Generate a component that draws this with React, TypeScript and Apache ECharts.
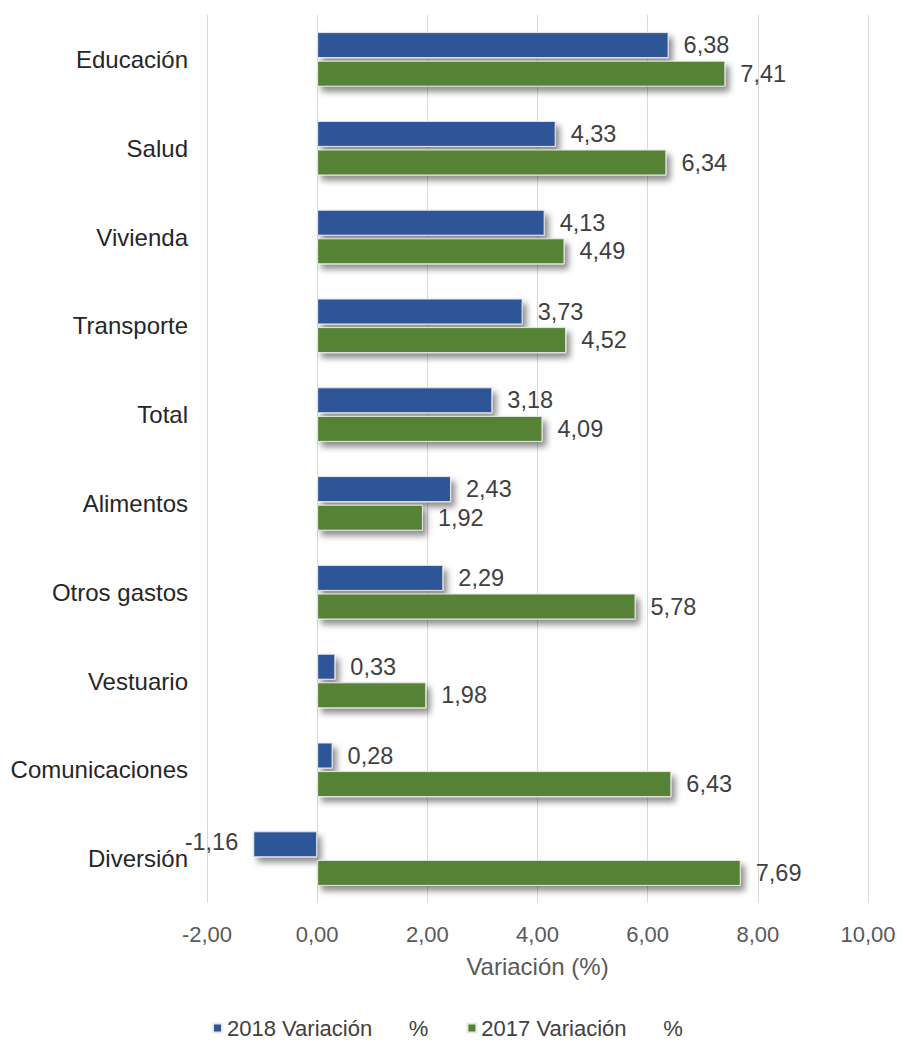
import React, { useEffect, useRef } from "react";
import * as echarts from "echarts";

const categories = [
  "Educación",
  "Salud",
  "Vivienda",
  "Transporte",
  "Total",
  "Alimentos",
  "Otros gastos",
  "Vestuario",
  "Comunicaciones",
  "Diversión",
];
const values2018 = [6.38, 4.33, 4.13, 3.73, 3.18, 2.43, 2.29, 0.33, 0.28, -1.16];
const values2017 = [7.41, 6.34, 4.49, 4.52, 4.09, 1.92, 5.78, 1.98, 6.43, 7.69];
const seriesNames = ["2018 Variación      %", "2017 Variación      %"];
const axisName = "Variación (%)";

const FONT = "'Liberation Sans', Arial, sans-serif";
const fmt = (v: number) => v.toFixed(2).replace(".", ",");

export default function App() {
  const ref = useRef<HTMLDivElement>(null);
  useEffect(() => {
    if (!ref.current) return;
    const chart = echarts.init(ref.current, undefined, { renderer: "svg" });
    const shadow = {
      shadowBlur: 6,
      shadowOffsetX: 4,
      shadowOffsetY: 5,
      shadowColor: "rgba(0,0,0,0.45)",
    };
    const mkData = (vals: number[]) =>
      vals.map((v) =>
        v < 0
          ? { value: v, label: { position: "left", offset: [0, -2] } }
          : { value: v }
      );
    const labelStyle = {
      show: true,
      position: "right",
      distance: 15,
      formatter: (p: any) => fmt(p.value),
      fontFamily: FONT,
      fontSize: 23.5,
      color: "#404040",
    };
    chart.setOption({
      animation: false,
      textStyle: { fontFamily: FONT },
      grid: { left: 207, right: 36, top: 15, bottom: 142, containLabel: false },
      legend: {
        bottom: 1,
        left: 207,
        itemWidth: 9,
        itemHeight: 9,
        itemGap: 38,
        icon: "rect",
        textStyle: { fontFamily: FONT, fontSize: 22, color: "#404040" },
        data: seriesNames,
      },
      xAxis: {
        type: "value",
        min: -2,
        max: 10,
        interval: 2,
        axisLabel: {
          formatter: (v: number) => fmt(v),
          fontFamily: FONT,
          fontSize: 22,
          color: "#595959",
          margin: 20,
        },
        axisLine: { show: false },
        axisTick: { show: false },
        splitLine: { show: true, lineStyle: { color: "#d9d9d9", width: 1 } },
        name: axisName,
        nameLocation: "middle",
        nameGap: 51,
        nameTextStyle: { fontFamily: FONT, fontSize: 24, color: "#595959" },
      },
      yAxis: {
        type: "category",
        data: categories,
        inverse: true,
        axisLine: { show: false, onZero: false },
        axisTick: { show: false },
        axisLabel: {
          fontFamily: FONT,
          fontSize: 24,
          color: "#262626",
          margin: 19,
        },
        splitLine: { show: false },
      },
      series: [
        {
          name: seriesNames[0],
          type: "bar",
          data: mkData(values2018),
          barWidth: 26,
          barGap: "10%",
          itemStyle: {
            color: "#2F5597",
            borderColor: "#e8e8e8",
            borderWidth: 1,
            ...shadow,
          },
          label: labelStyle,
        },
        {
          name: seriesNames[1],
          type: "bar",
          data: mkData(values2017),
          barWidth: 26,
          barGap: "10%",
          itemStyle: {
            color: "#548235",
            borderColor: "#e8e8e8",
            borderWidth: 1,
            ...shadow,
          },
          label: labelStyle,
        },
      ],
    });
    return () => chart.dispose();
  }, []);
  return <div ref={ref} style={{ width: 904, height: 1045, margin: -8 }} />;
}
